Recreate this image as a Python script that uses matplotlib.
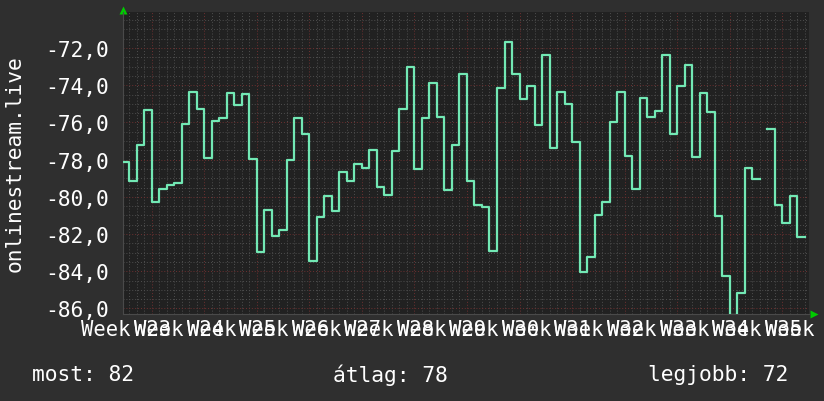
import numpy as np
import matplotlib
matplotlib.use("Agg")
import matplotlib.pyplot as plt
from matplotlib.ticker import MultipleLocator

# daily values, first step starts 4 days before the first week line
start_day = -4
values = [-78.13, -79.13, -77.22, -75.32, -80.30, -79.58, -79.35, -79.24,
          -76.07, -74.35, -75.26, -77.90, -75.92, -75.75, -74.40, -75.05,
          -74.46, -77.97, -82.95, -80.71, -82.09, -81.77, -78.02, -75.75,
          -76.61, -83.43, -81.09, -79.96, -80.78, -78.65, -79.13, -78.24,
          -78.43, -77.48, -79.47, -79.89, -77.54, -75.26, -73.02, -78.51,
          -75.75, -73.88, -75.69, -79.62, -77.20, -73.40, -79.15, -80.42,
          -80.53, -82.90, -74.15, -71.68, -73.38, -74.76, -74.06, -76.12,
          -72.38, -77.36, -74.38, -75.01, -77.05, -84.04, -83.24, -80.98,
          -80.26, -75.98, -74.37, -77.81, -79.58, -74.69, -75.71, -75.37,
          -72.38, -76.61, -74.04, -72.91, -77.84, -74.42, -75.44, -81.03,
          -84.24, -86.35, -85.17, -78.45, -79.04, np.nan, -76.34, -80.42,
          -81.39, -79.94, -82.16]
week_labels = ["Week", "W23", "W24", "W25", "W26", "W27", "W28", "W29",
               "W30", "W31", "W32", "W33", "W34", "W35"]
ylabel = "onlinestream.live"
yticks = [-86, -84, -82, -80, -78, -76, -74, -72]

bg = "#2f2f2f"
plotbg = "#212121"
linec = "#72e8b4"
mono = "DejaVu Sans Mono"
fs = 15.3
fs_week = 14.8

vals = np.array(values)
days = np.arange(start_day, start_day + len(vals) + 1)
yy = np.append(vals, vals[-1])

fig = plt.figure(figsize=(8.24, 4.02), dpi=100, facecolor=bg)
ax = fig.add_axes([123 / 824, 87 / 402, 686 / 824, 302 / 402])
ax.set_facecolor(plotbg)

ax.plot(days, yy, drawstyle="steps-post", color=linec, lw=1.6, zorder=3)

ax.set_xlim(-3.82, 87.56)
ax.set_ylim(-86.3, -70.06)

ax.xaxis.set_major_locator(MultipleLocator(7))
ax.xaxis.set_minor_locator(MultipleLocator(1))
ax.yaxis.set_major_locator(MultipleLocator(2))
ax.yaxis.set_minor_locator(MultipleLocator(0.5))
ax.grid(which="minor", color="#4e4e4e", lw=0.7, ls=(0, (1, 2)))
ax.grid(which="major", color="#6e3030", lw=0.7, ls=(0, (1, 2)))
ax.set_axisbelow(True)

ax.set_yticks(yticks)
ax.set_yticklabels(["{:.1f}".format(v).replace(".", ",") for v in yticks],
                   fontfamily=mono, fontsize=fs, color="white")
ax.tick_params(axis="y", which="both", length=0, pad=10)
ax.tick_params(axis="x", which="both", length=0, labelbottom=False)
for s in ["top", "right"]:
    ax.spines[s].set_visible(False)
for s in ["left", "bottom"]:
    ax.spines[s].set_color("#4a4a4a")
    ax.spines[s].set_linewidth(0.8)

# overlapping week labels, like the original
tr = ax.get_xaxis_transform()
for k, lab in enumerate(week_labels):
    x0 = -9.35 + 7 * k
    ax.text(x0, -0.05, "Week", transform=tr, ha="left", va="center",
            fontfamily=mono, fontsize=fs_week, color="white", clip_on=False)
    if k > 0:
        ax.text(x0, -0.05, lab, transform=tr, ha="left", va="center",
                fontfamily=mono, fontsize=fs_week, color="white",
                clip_on=False)

# arrows at the axis ends
ax.plot([0], [1.006], marker="^", color="#00cc00", ms=6, mec="none",
        transform=ax.transAxes, clip_on=False)
ax.plot([1.0066], [0.0], marker=">", color="#00cc00", ms=6, mec="none",
        transform=ax.transAxes, clip_on=False)

fig.text(15 / 824, 1 - 164 / 402, ylabel, rotation=90, ha="center",
         va="center", fontfamily=mono, fontsize=fs, color="white")

most = -vals[~np.isnan(vals)][-1]
atlag = -np.nanmean(vals)
legjobb = -np.nanmax(vals)
ty = 1 - 375 / 402
fig.text(32 / 824, ty, "most: {:.0f}".format(most), ha="left", va="center",
         fontfamily=mono, fontsize=fs, color="white")
fig.text(333 / 824, ty, "átlag: {:.0f}".format(atlag), ha="left",
         va="center", fontfamily=mono, fontsize=fs, color="white")
fig.text(648 / 824, ty, "legjobb: {:.0f}".format(legjobb), ha="left",
         va="center", fontfamily=mono, fontsize=fs, color="white")

fig.savefig("out.png", dpi=100, facecolor=bg)
